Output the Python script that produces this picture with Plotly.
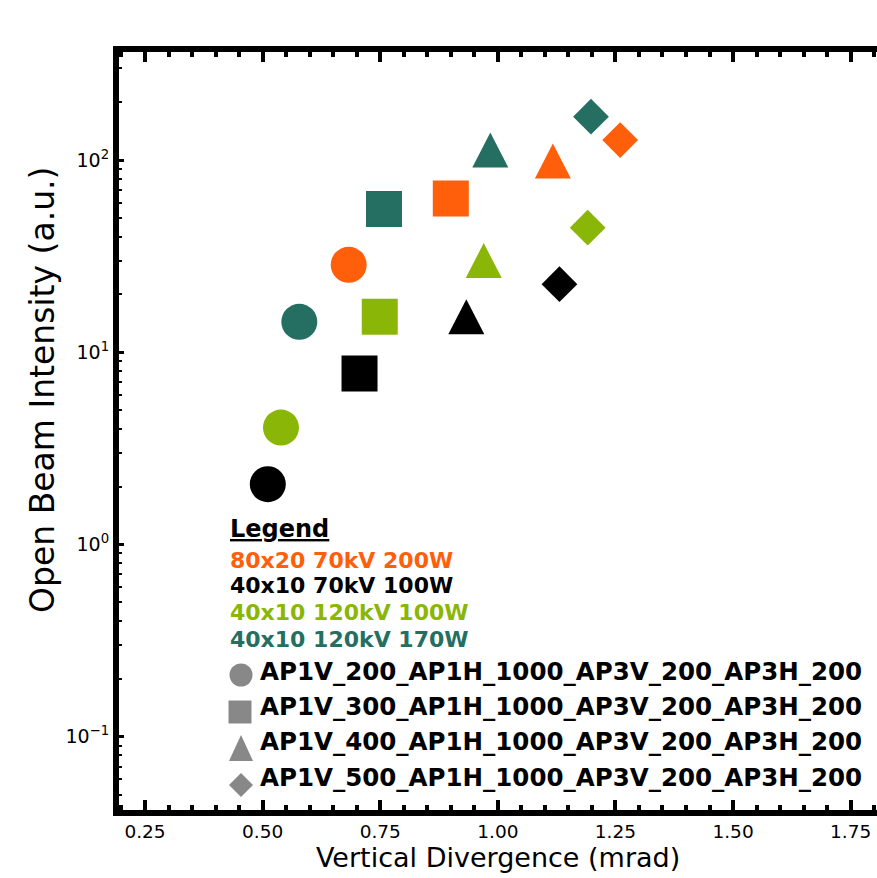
import plotly.graph_objects as go

# ---------------- data ----------------
sources = ["80x20 70kV 200W", "40x10 70kV 100W", "40x10 120kV 100W", "40x10 120kV 170W"]
source_colors = ["#FF5E0B", "#000000", "#8AB707", "#246F62"]
apertures = [
    "AP1V_200_AP1H_1000_AP3V_200_AP3H_200",
    "AP1V_300_AP1H_1000_AP3V_200_AP3H_200",
    "AP1V_400_AP1H_1000_AP3V_200_AP3H_200",
    "AP1V_500_AP1H_1000_AP3V_200_AP3H_200",
]
aperture_symbols = ["circle", "square", "triangle", "diamond"]

# vertical divergence (mrad) per aperture setting, for each source
div_80x20_70kV_200W = [0.683, 0.900, 1.117, 1.260]
div_40x10_70kV_100W = [0.511, 0.706, 0.933, 1.131]
div_40x10_120kV_100W = [0.539, 0.749, 0.970, 1.191]
div_40x10_120kV_170W = [0.578, 0.758, 0.984, 1.198]

# open beam intensity (a.u.)
int_80x20_70kV_200W = [28.5, 63.0, 99.0, 127.0]
int_40x10_70kV_100W = [2.06, 7.76, 15.3, 22.6]
int_40x10_120kV_100W = [4.06, 15.3, 30.0, 44.5]
int_40x10_120kV_170W = [14.4, 55.6, 112.7, 168.0]

x_tick_vals = [0.25, 0.50, 0.75, 1.00, 1.25, 1.50, 1.75]
x_tick_text = ["0.25", "0.50", "0.75", "1.00", "1.25", "1.50", "1.75"]
y_tick_vals = [0.1, 1, 10, 100]
y_tick_text = ["10<sup>\u22121</sup>", "10<sup>0</sup>", "10<sup>1</sup>", "10<sup>2</sup>"]

divs = [div_80x20_70kV_200W, div_40x10_70kV_100W, div_40x10_120kV_100W, div_40x10_120kV_170W]
ints = [int_80x20_70kV_200W, int_40x10_70kV_100W, int_40x10_120kV_100W, int_40x10_120kV_170W]

# ---------------- layout geometry ----------------
W, H = 877, 878
ML, MR, MT, MB = 119, 0, 52, 68
PW, PH = W - ML - MR, H - MT - MB
FONT = "DejaVu Sans"


def px_x(px):
    return (px - ML) / PW


def px_y(py):
    return (MT + PH - py) / PH


fig = go.Figure()
shapes = []

marker_sizes = {"circle": 36, "square": 36, "diamond": 27.5}
for name, color, xs, ys in zip(sources, source_colors, divs, ints):
    mx, my, ms, msz, txt = [], [], [], [], []
    for sym, ap, xv, yv in zip(aperture_symbols, apertures, xs, ys):
        if sym == "triangle":
            # isosceles triangle anchored at the data point (positioned through the axis scales)
            shapes.append(dict(
                type="path", xref="x", yref="y",
                xsizemode="pixel", ysizemode="pixel",
                xanchor=xv, yanchor=yv,
                path="M -18,-17.5 L 18,-17.5 L 0,17.5 Z",
                fillcolor=color, line=dict(width=0), layer="above",
            ))
            continue
        mx.append(xv)
        my.append(yv)
        ms.append(sym)
        msz.append(marker_sizes[sym])
        txt.append(ap)
    fig.add_trace(go.Scatter(
        x=mx, y=my, mode="markers", name=name, text=txt,
        marker=dict(symbol=ms, size=msz, color=color, opacity=1, line=dict(width=0)),
        showlegend=False,
    ))

# ---------------- custom legend ----------------
ann = []
ann.append(dict(x=px_x(228), y=px_y(529), xref="paper", yref="paper", xanchor="left", yanchor="middle",
                text="<b><u>Legend</u></b>", showarrow=False, font=dict(family=FONT, size=24, color="black")))
for name, color, py in zip(sources, source_colors, [560, 585, 612, 639]):
    ann.append(dict(x=px_x(228), y=px_y(py), xref="paper", yref="paper", xanchor="left", yanchor="middle",
                    text="<b>" + name + "</b>", showarrow=False, font=dict(family=FONT, size=22, color=color)))
for ap, py in zip(apertures, [671, 706, 741, 777]):
    ann.append(dict(x=px_x(258), y=px_y(py), xref="paper", yref="paper", xanchor="left", yanchor="middle",
                    text="<b>" + ap + "</b>", showarrow=False, font=dict(family=FONT, size=24.5, color="black")))

grey = "#888888"
legend_sym_paths = {
    "square": "M -11.5,-11.5 L 11.5,-11.5 L 11.5,11.5 L -11.5,11.5 Z",
    "triangle": "M -12,-13 L 12,-13 L 0,13 Z",
    "diamond": "M 0,-12 L 12,0 L 0,12 L -12,0 Z",
}
for sym, (cx, cy) in zip(aperture_symbols, [(241, 675), (240, 712), (241, 748), (241, 785)]):
    if sym == "circle":
        shapes.append(dict(type="circle", xref="paper", yref="paper", xsizemode="pixel", ysizemode="pixel",
                           xanchor=px_x(cx), yanchor=px_y(cy), x0=-11.5, x1=11.5, y0=-11.5, y1=11.5,
                           fillcolor=grey, line=dict(width=0), layer="above"))
    else:
        shapes.append(dict(type="path", xref="paper", yref="paper", xsizemode="pixel", ysizemode="pixel",
                           xanchor=px_x(cx), yanchor=px_y(cy), path=legend_sym_paths[sym],
                           fillcolor=grey, line=dict(width=0), layer="above"))

# axis titles
ann.append(dict(x=px_x(498), y=px_y(857), xref="paper", yref="paper", xanchor="center", yanchor="middle",
                text="Vertical Divergence (mrad)", showarrow=False, font=dict(family=FONT, size=27, color="black")))
ann.append(dict(x=px_x(43), y=px_y(390), xref="paper", yref="paper", xanchor="center", yanchor="middle",
                text="Open Beam Intensity (a.u.)", textangle=-90, showarrow=False,
                font=dict(family=FONT, size=33, color="black")))

fig.update_layout(
    width=W, height=H,
    margin=dict(l=ML, r=MR, t=MT, b=MB, autoexpand=False),
    paper_bgcolor="white", plot_bgcolor="white",
    font=dict(family=FONT, color="black"),
    shapes=shapes, annotations=ann,
    showlegend=False,
)
fig.update_xaxes(
    range=[0.1947, 1.806], showgrid=False, zeroline=False,
    showline=True, linewidth=6, linecolor="black", mirror="ticks",
    ticks="inside", ticklen=10, tickwidth=4, tickcolor="black",
    tickmode="array", tickvals=x_tick_vals, ticktext=x_tick_text,
    tickfont=dict(family=FONT, size=18.5, color="black"),
    minor=dict(ticks="inside", ticklen=5, tickwidth=4, tickcolor="black", dtick=0.05, tick0=0, showgrid=False),
)
fig.update_yaxes(
    type="log", range=[-1.381, 2.562], showgrid=False, zeroline=False,
    showline=True, linewidth=6, linecolor="black", mirror=False,
    ticks="inside", ticklen=5, tickwidth=3, tickcolor="black",
    tickmode="array", tickvals=y_tick_vals, ticktext=y_tick_text,
    tickfont=dict(family=FONT, size=19, color="black"),
    minor=dict(ticks="inside", ticklen=3, tickwidth=2, tickcolor="black", dtick="D1", showgrid=False),
)

fig.write_html("out.html")
